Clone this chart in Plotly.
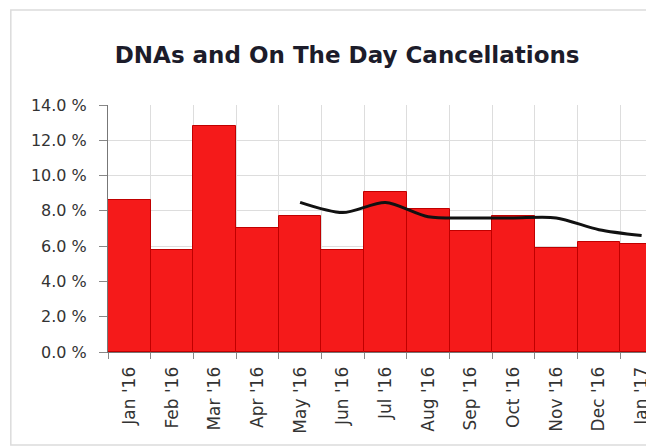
import plotly.graph_objects as go

months = ["Jan '16", "Feb '16", "Mar '16", "Apr '16", "May '16", "Jun '16", "Jul '16",
          "Aug '16", "Sep '16", "Oct '16", "Nov '16", "Dec '16", "Jan '17"]
rate = [8.64, 5.8, 12.8, 7.03, 7.73, 5.8, 9.05, 8.1, 6.84, 7.73, 5.9, 6.22, 6.1]
trend = [None, None, None, None, 8.48, 7.9, 8.48, 7.67, 7.6, 7.6, 7.6, 6.93, 6.6]
y_ticks = [0, 2, 4, 6, 8, 10, 12, 14]

FONT = "DejaVu Sans, Verdana, sans-serif"

fig = go.Figure()
fig.add_trace(go.Bar(x=months, y=rate,
                     marker=dict(color="#f51a1a", line=dict(color="#c00000", width=1)),
                     showlegend=False))
fig.add_trace(go.Scatter(x=months, y=trend, mode="lines",
                         line=dict(color="#111111", width=3, shape="spline", smoothing=0.8),
                         connectgaps=False, showlegend=False))

fig.update_layout(
    width=646, height=440,
    margin=dict(l=100, r=0, t=97, b=96),
    paper_bgcolor="white", plot_bgcolor="white",
    bargap=0,
    title=dict(text="<b>DNAs and On The Day Cancellations</b>",
               x=0.525, xanchor="center", y=0.893, yanchor="middle",
               font=dict(family=FONT, size=23, color="#1c1c2a")),
    font=dict(family=FONT, size=16, color="#333333"),
    shapes=[dict(type="rect", xref="paper", yref="paper",
                 x0=-0.178, x1=1.05, y0=-0.377, y1=1.385,
                 line=dict(color="#dcdcdc", width=1.5), fillcolor="rgba(0,0,0,0)", layer="below")],
)
fig.update_xaxes(type="category", range=[-0.5, 12.29], tickson="boundaries",
                 ticks="outside", ticklen=6, tickcolor="#888888",
                 showgrid=True, gridcolor="#dddddd", gridwidth=1,
                 showline=True, linecolor="#777777", linewidth=1,
                 tickangle=-90, ticklabelstandoff=7,
                 tickfont=dict(family=FONT, size=17, color="#333333"))
fig.update_yaxes(range=[0, 14], tickvals=y_ticks, ticktext=[f"{v:.1f} %" for v in y_ticks],
                 ticks="outside", ticklen=8, tickcolor="#888888",
                 showgrid=True, gridcolor="#dddddd", gridwidth=1,
                 showline=True, linecolor="#777777", linewidth=1, zeroline=False,
                 ticklabelstandoff=9,
                 tickfont=dict(family=FONT, size=16, color="#333333"))

fig.write_html("out.html")
